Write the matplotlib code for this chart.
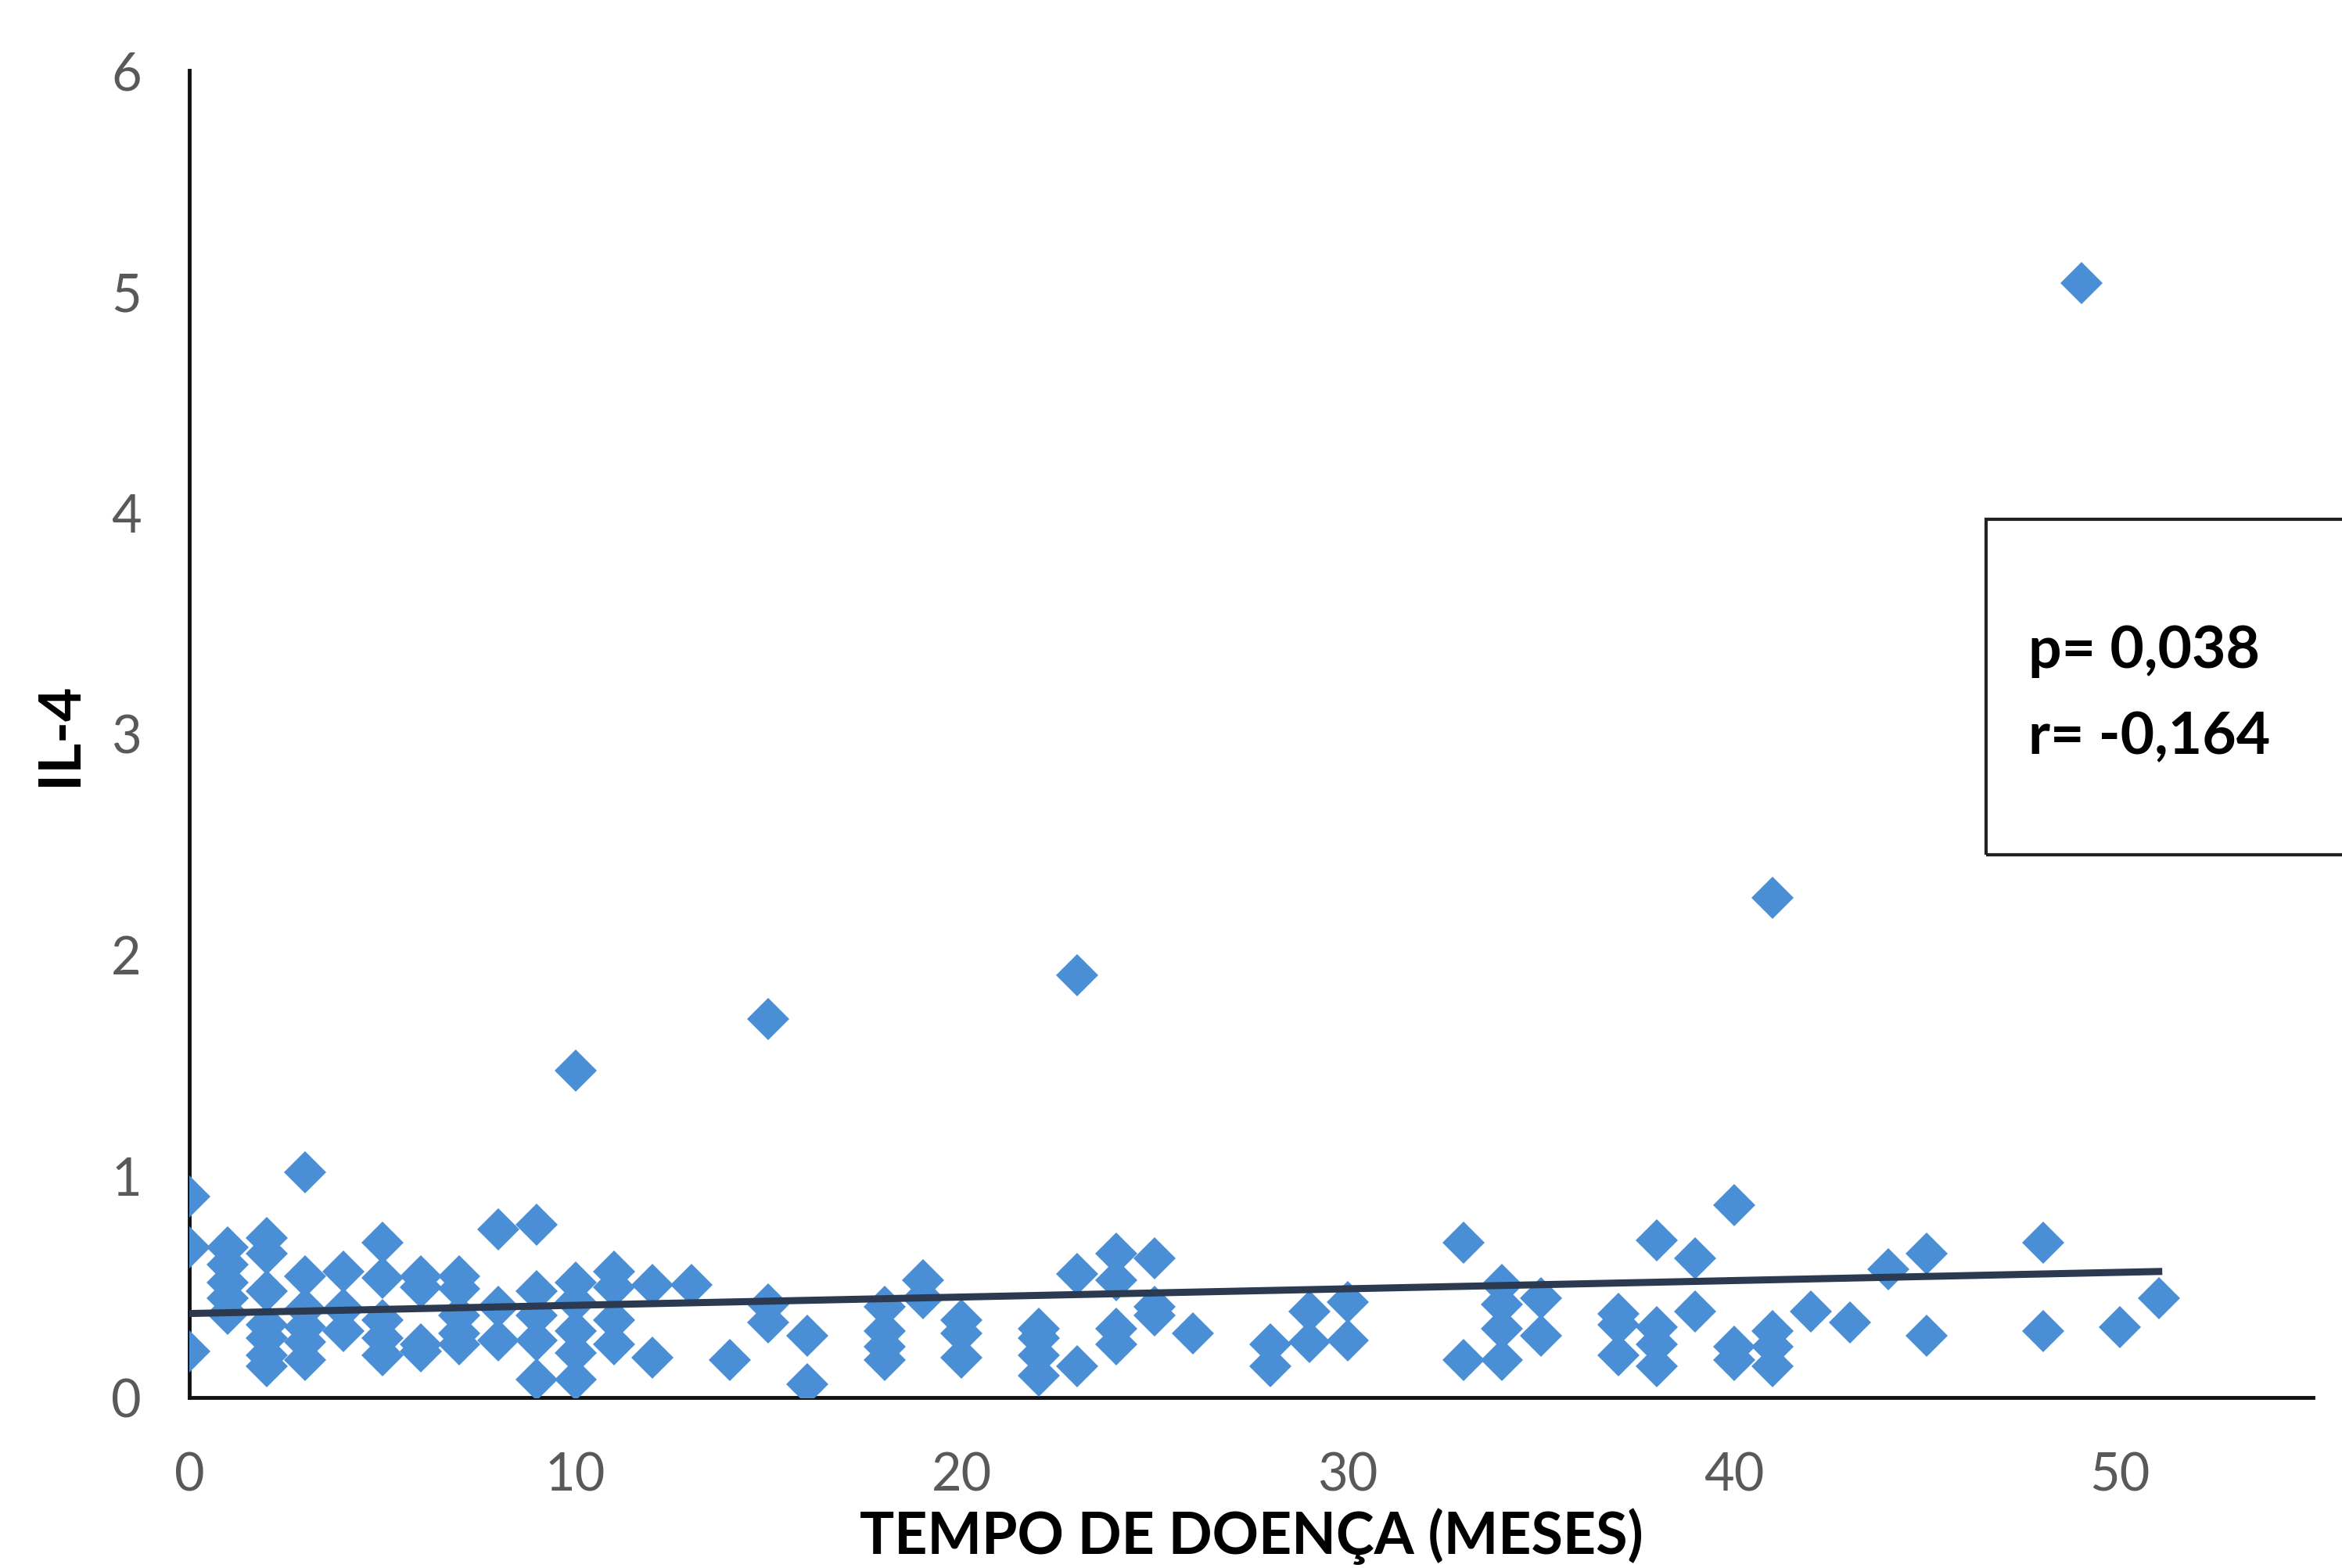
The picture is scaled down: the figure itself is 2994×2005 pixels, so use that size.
import matplotlib
matplotlib.use("Agg")
import matplotlib.pyplot as plt
from matplotlib.patches import Rectangle

# tempo de doenca (meses) and IL-4 values
tempo = [0, 0, 0,
         1, 1, 1, 1, 1,
         2, 2, 2, 2, 2, 2, 2,
         3, 3, 3, 3, 3, 3,
         4, 4, 4,
         5, 5, 5, 5, 5,
         6, 6, 6, 6,
         7, 7, 7, 7, 7,
         8, 8, 8,
         9, 9, 9, 9, 9,
         10, 10, 10, 10, 10, 10,
         11, 11, 11, 11,
         12, 12, 13, 14,
         15, 15, 15,
         16, 16,
         18, 18, 18, 18,
         19, 19,
         20, 20, 20,
         22, 22, 22, 22,
         23, 23, 23,
         24, 24, 24, 24,
         25, 25, 25,
         26, 28, 28, 29, 29, 30, 30,
         33, 33,
         34, 34, 34, 34,
         35, 35,
         37, 37, 37,
         38, 38, 38, 38,
         39, 39,
         40, 40, 40,
         41, 41, 41, 41,
         42, 43, 44, 45, 45, 48, 48, 49, 50, 51]
il4 = [0.91, 0.68, 0.21,
       0.68, 0.60, 0.52, 0.45, 0.38,
       0.72, 0.65, 0.48, 0.33, 0.27, 0.19, 0.14,
       1.02, 0.55, 0.40, 0.32, 0.25, 0.17,
       0.57, 0.40, 0.30,
       0.70, 0.54, 0.35, 0.27, 0.19,
       0.55, 0.50, 0.24, 0.21,
       0.55, 0.49, 0.37, 0.29, 0.24,
       0.76, 0.41, 0.26,
       0.78, 0.48, 0.37, 0.26, 0.08,
       1.48, 0.52, 0.43, 0.30, 0.20, 0.08,
       0.57, 0.50, 0.35, 0.24,
       0.51, 0.18, 0.51, 0.17,
       1.71, 0.42, 0.34,
       0.28, 0.06,
       0.41, 0.30, 0.23, 0.17,
       0.53, 0.45,
       0.35, 0.29, 0.18,
       0.31, 0.27, 0.19, 0.10,
       1.91, 0.56, 0.14,
       0.65, 0.53, 0.31, 0.24,
       0.63, 0.41, 0.37,
       0.29, 0.24, 0.14, 0.39, 0.25, 0.43, 0.26,
       0.70, 0.17,
       0.51, 0.42, 0.31, 0.17,
       0.45, 0.28,
       0.38, 0.33, 0.19,
       0.71, 0.32, 0.24, 0.14,
       0.63, 0.39,
       0.87, 0.23, 0.17,
       2.26, 0.30, 0.23, 0.14,
       0.39, 0.34, 0.58, 0.65, 0.28, 0.70, 0.30, 5.04, 0.32, 0.45]

# linear trend line as drawn in the original
trend_x = [0, 51]
trend_y = [0.38, 0.57]

x_ticks = [0, 10, 20, 30, 40, 50]
y_ticks = [0, 1, 2, 3, 4, 5, 6]

plt.rcParams['font.family'] = ['Lato', 'DejaVu Sans']

fig = plt.figure(figsize=(29.94, 20.05), dpi=100)
ax = fig.add_axes([0.0808, 0.1087, 0.9069, 0.8463])

ax.plot(tempo, il4, linestyle='none', marker='D', markersize=28,
        color='#4a8fd6', markeredgewidth=0, zorder=3)
ax.plot(trend_x, trend_y, color='#2b3a50', linewidth=6.5, zorder=4)

ax.set_xlim(0, 55)
ax.set_ylim(0, 6)
ax.set_xticks(x_ticks)
ax.set_yticks(y_ticks)
ax.tick_params(length=0, labelsize=48, labelcolor='#595959')
ax.tick_params(axis='x', pad=50)
ax.tick_params(axis='y', pad=44)

for side in ['top', 'right']:
    ax.spines[side].set_visible(False)
for side in ['left', 'bottom']:
    ax.spines[side].set_linewidth(3.5)
    ax.spines[side].set_color('#111111')

ax.set_xlabel('TEMPO DE DOENÇA (MESES)', fontsize=53, fontweight='bold')
ax.xaxis.set_label_coords(0.5, -0.083)
ax.xaxis.label.set_va('top')
ax.set_ylabel('IL-4', fontsize=54, fontweight='bold')
ax.yaxis.set_label_coords(-0.061, 0.5)
ax.yaxis.label.set_va('center')

# stats box, runs off the right edge like the original
box = Rectangle((0.848, 0.455), 0.2, 0.214, transform=fig.transFigure,
                fill=False, edgecolor='#222222', linewidth=3, clip_on=False)
fig.patches.append(box)
fig.text(0.866, 0.585, 'p= 0,038', fontsize=54, fontweight='bold', va='center')
fig.text(0.866, 0.530, 'r= -0,164', fontsize=54, fontweight='bold', va='center')

fig.savefig('out.png', dpi=100)
